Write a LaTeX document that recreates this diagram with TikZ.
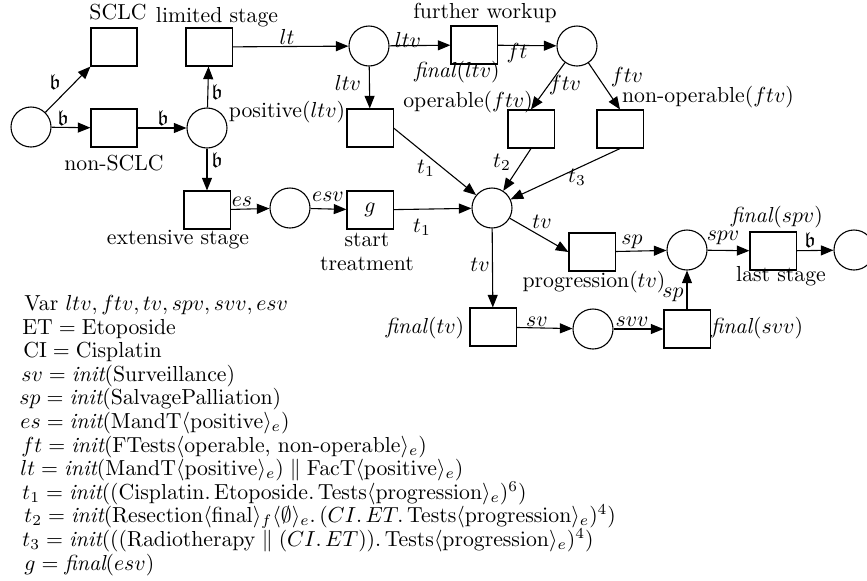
\documentclass[tikz,border=0pt]{standalone}
\usepackage{amsmath,amssymb}
\usetikzlibrary{arrows.meta}
\newcommand{\fin}{\textit{final}}
\newcommand{\ini}{\textit{init}}
\begin{document}
\begin{tikzpicture}[x=0.46pt,y=-0.46pt,
  place/.style={circle,draw,line width=0.5pt,minimum size=18.4pt,inner sep=0pt},
  trans/.style={rectangle,draw,line width=0.5pt,minimum width=21.2pt,minimum height=17.5pt,inner sep=0pt},
  arc/.style={line width=0.5pt,-{Triangle[length=5.8pt,width=4.6pt]}},
  tag/.style={inner sep=0pt},
  elab/.style={inner sep=0pt},
  spec/.style={anchor=base west,inner sep=0pt,text height=6.5pt,text depth=1.5pt}]
\useasboundingbox (0,0) rectangle (867,580);
\clip (0,0) rectangle (867,580);

% places
\node[place] (p0)   at (31,127) {};
\node[place] (pPos) at (207,128) {};
\node[place] (pEs)  at (290,208) {};
\node[place] (pLt)  at (369,46) {};
\node[place] (pFt)  at (577,46) {};
\node[place] (pT)   at (492,208) {};
\node[place] (pSp)  at (687,250) {};
\node[place] (pSv)  at (593,329) {};
\node[place] (pEnd) at (854,250) {};

% transitions
\node[trans] (tSCLC)   at (114,47) {};
\node[trans] (tNon)    at (114,128) {};
\node[trans] (tLim)    at (209,47) {};
\node[trans] (tExt)    at (207,210) {};
\node[trans] (tG)      at (370,210) {$g$};
\node[trans] (tFW)     at (474,45) {};
\node[trans] (tPosLtv) at (370,128) {};
\node[trans] (tOp)     at (531,129) {};
\node[trans] (tNonOp)  at (620,129) {};
\node[trans] (tProg)   at (592,252) {};
\node[trans] (tLast)   at (773,251) {};
\node[trans] (tFinTv)  at (493,327) {};
\node[trans] (tFinSvv) at (687,329) {};

% transition names
\node[tag] (nSCLC)  at (118,12)  {SCLC};
\node[tag] (nNon)   at (114,163) {non-SCLC};
\node[tag] (nLim)   at (217,17)  {limited stage};
\node[tag] (nExt)   at (178,240) {extensive stage};
\node[tag] (nStart) at (367,240) {start};
\node[tag] (nTreat) at (367,264) {treatment};
\node[tag] (nFW)    at (485,13)  {further workup};
\node[tag] (nFWf)   at (457,72)  {\fin$(ltv)$};
\node[tag] (nPos)   at (287,112) {positive$(ltv)$};
\node[tag] (nOp)    at (468,102) {operable$(ftv)$};
\node[tag] (nNonOp) at (708,97)  {non-operable$(ftv)$};
\node[tag] (nProg)  at (594,282) {progression$(tv)$};
\node[tag] (nLastF) at (777,217) {\fin$(spv)$};
\node[tag] (nLast)  at (781,276) {last stage};
\node[tag] (nFinTv) at (425,328) {\fin$(tv)$};
\node[tag] (nFinSv) at (757,328) {\fin$(svv)$};

% arcs
\draw[arc] (p0) -- (tSCLC.south west);
\draw[arc] (p0) -- (tNon);
\draw[arc] (tNon) -- (pPos);
\draw[arc] (pPos) -- (tLim);
\draw[arc] (pPos) -- (tExt);
\draw[arc] (tExt) -- (pEs);
\draw[arc] (pEs) -- (tG);
\draw[arc] (tG) -- (pT);
\draw[arc] (tLim) -- (pLt);
\draw[arc] (pLt) -- (tFW);
\draw[arc] (tFW) -- (pFt);
\draw[arc] (pLt) -- (tPosLtv);
\draw[arc] (pFt) -- (tOp.north);
\draw[arc] (pFt) -- (tNonOp.north);
\draw[arc] (tPosLtv.east) -- (pT);
\draw[arc] (tOp.south) -- (pT);
\draw[arc] (tNonOp.south) -- (pT);
\draw[arc] (pT) -- (tProg.west);
\draw[arc] (pT) -- (tFinTv);
\draw[arc] (tProg) -- (pSp);
\draw[arc] (pSp) -- (tLast);
\draw[arc] (tLast) -- (pEnd);
\draw[arc] (tFinTv) -- (pSv);
\draw[arc] (pSv) -- (tFinSvv);
\draw[arc] (tFinSvv) -- (pSp);

% arc inscriptions
\node[elab] (e1)  at (55,82)   {$\mathfrak{b}$};
\node[elab] (e2)  at (63,118)  {$\mathfrak{b}$};
\node[elab] (e3)  at (163,118) {$\mathfrak{b}$};
\node[elab] (e4)  at (217,92)  {$\mathfrak{b}$};
\node[elab] (e5)  at (217,160) {$\mathfrak{b}$};
\node[elab] (e6)  at (242,202) {$es$};
\node[elab] (e7)  at (328,197) {$esv$};
\node[elab] (e8)  at (422,227) {$t_1$};
\node[elab] (e9)  at (287,37)  {$lt$};
\node[elab] (e10) at (408,40)  {$ltv$};
\node[elab] (e11) at (517,53)  {$ft$};
\node[elab] (e12) at (348,83)  {$ltv$};
\node[elab] (e13) at (565,85)  {$ftv$};
\node[elab] (e14) at (627,77)  {$ftv$};
\node[elab] (e15) at (426,168) {$t_1$};
\node[elab] (e16) at (502,162) {$t_2$};
\node[elab] (e17) at (577,177) {$t_3$};
\node[elab] (e18) at (542,222) {$tv$};
\node[elab] (e19) at (480,265) {$tv$};
\node[elab] (e20) at (632,242) {$sp$};
\node[elab] (e21) at (723,238) {$spv$};
\node[elab] (e22) at (810,240) {$\mathfrak{b}$};
\node[elab] (e23) at (537,322) {$sv$};
\node[elab] (e24) at (632,322) {$svv$};
\node[elab] (e25) at (673,295) {$sp$};

% declarations
\node[spec] (s0)  at (24,310)   {Var $ltv, ftv, tv, spv, svv, esv$};
\node[spec] (s1)  at (22,334)   {$\mathrm{ET} = \mathrm{Etoposide}$};
\node[spec] (s2)  at (23,357)   {$\mathrm{CI} = \mathrm{Cisplatin}$};
\node[spec] (s3)  at (21,381)   {$sv = \ini(\mathrm{Surveillance})$};
\node[spec] (s4)  at (19,404)   {$sp = \ini(\mathrm{SalvagePalliation})$};
\node[spec] (s5)  at (20,428)   {$es = \ini(\mathrm{MandT}\langle\mathrm{positive}\rangle_e)$};
\node[spec] (s6)  at (21,452)   {$ft = \ini(\mathrm{FTests}\langle\text{operable, non-operable}\rangle_e)$};
\node[spec] (s7)  at (20,475)   {$lt = \ini(\mathrm{MandT}\langle\mathrm{positive}\rangle_e) \parallel \mathrm{FacT}\langle\mathrm{positive}\rangle_e)$};
\node[spec] (s8)  at (22,499)   {$t_1 = \ini((\mathrm{Cisplatin}.\,\mathrm{Etoposide}.\,\mathrm{Tests}\langle\mathrm{progression}\rangle_e)^6)$};
\node[spec] (s9)  at (24,522)   {$t_2 = \ini(\mathrm{Resection}\langle\mathrm{final}\rangle_f\langle\emptyset\rangle_e.\,(CI.\,ET.\,\mathrm{Tests}\langle\mathrm{progression}\rangle_e)^4)$};
\node[spec] (s10) at (22,546)   {$t_3 = \ini(((\mathrm{Radiotherapy} \parallel (CI.\,ET)).\,\mathrm{Tests}\langle\mathrm{progression}\rangle_e)^4)$};
\node[spec] (s11) at (24,570)   {$g = \fin(esv)$};
\end{tikzpicture}
\end{document}
